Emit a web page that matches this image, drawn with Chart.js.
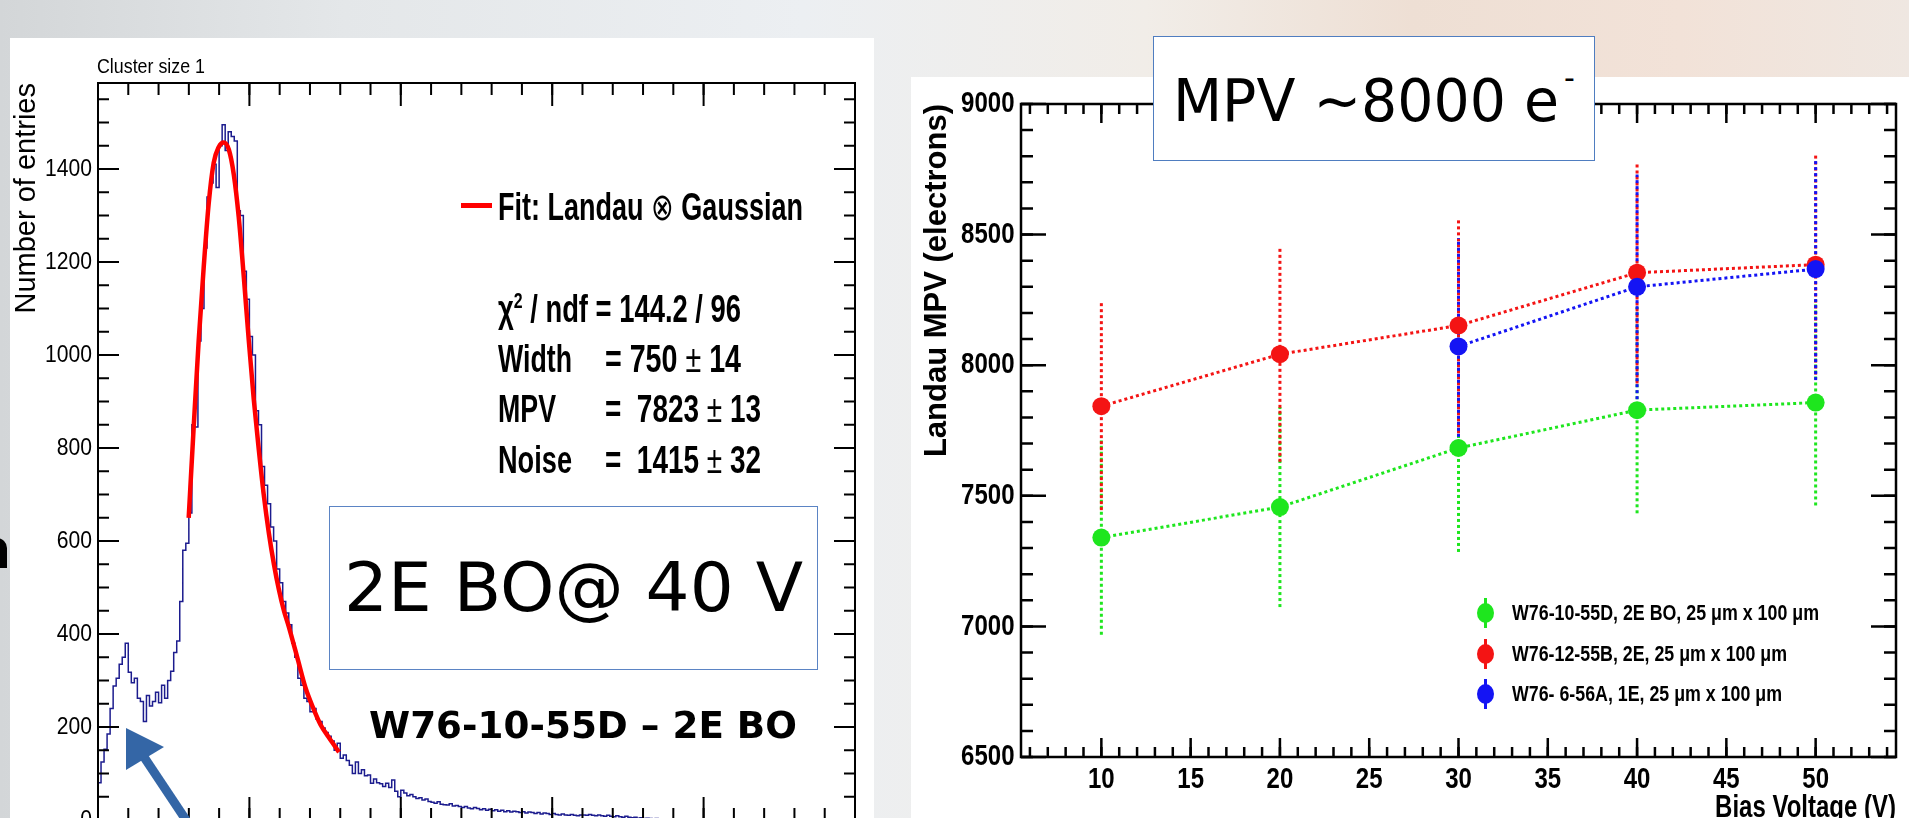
<!DOCTYPE html>
<html lang="en">
<head>
<meta charset="UTF-8" />
<title>Landau MPV - W76 sensors</title>
<script src="https://cdn.jsdelivr.net/npm/chart.js"></script>
<style>
  html, body { margin: 0; padding: 0; }
  body {
    width: 1909px; height: 818px; overflow: hidden; position: relative;
    font-family: "Liberation Sans", Arial, sans-serif;
    background: linear-gradient(90deg, #d3d6d8 0%, #e4e7e9 18%, #eceff2 42%, #f1ede8 60%, #eedfd4 74%, #f2e2d8 88%, #efe7e1 100%);
  }
  .panel { position: absolute; background: #fff; }
  .panel canvas { position: absolute; left: 0; top: 0; }
  .txt { position: absolute; white-space: pre; display: inline-block; transform-origin: 0 50%; color: #000; }
  .stat { font-weight: bold; font-size: 38px; line-height: 38px; }
  .stat sup { font-size: 22px; line-height: 0; vertical-align: 14px; }
  .thin { font-weight: normal; }
  .box { position: absolute; background: #fff; border: 1.5px solid #5b84c4; box-sizing: border-box; }
  .dv { font-family: "DejaVu Sans", sans-serif; }
  .mk { position: absolute; width: 17px; height: 20px; border-radius: 50%; }
  .mk::before { content: ""; position: absolute; left: 7px; top: -5px; width: 3px; height: 30px; background: inherit; }
  .lgtxt { font-weight: bold; font-size: 22px; line-height: 22px; }
</style>
</head>
<body>
  <div class="panel" style="left:10px; top:38px; width:864px; height:807px;">
    <canvas id="histChart" width="864" height="807"></canvas>
  </div>
  <div class="panel" style="left:911px; top:77px; width:998px; height:753px;">
    <canvas id="mpvChart" width="998" height="753"></canvas>
  </div>

  <!-- left plot annotations -->
  <div class="txt" style="left:97px; top:55px; font-size:21px; line-height:21px;" data-w="108">Cluster size 1</div>
  <div style="position:absolute; left:461px; top:203px; width:31px; height:5px; background:#ff0000;"></div>
  <div class="txt stat" style="left:498px; top:188px;" data-w="305">Fit: Landau <span class="thin">⊗</span> Gaussian</div>
  <div class="txt stat" style="left:498px; top:290px;" data-w="243">χ<sup>2</sup> / ndf = 144.2 / 96</div>
  <div class="txt stat" style="left:498px; top:340px;" data-w="74">Width</div>
  <div class="txt stat" style="left:605px; top:340px;" data-w="136">= 750 <span class="thin">±</span> 14</div>
  <div class="txt stat" style="left:498px; top:390px;" data-w="58">MPV</div>
  <div class="txt stat" style="left:605px; top:390px;" data-w="156">=  7823 <span class="thin">±</span> 13</div>
  <div class="txt stat" style="left:498px; top:441px;" data-w="74">Noise</div>
  <div class="txt stat" style="left:605px; top:441px;" data-w="156">=  1415 <span class="thin">±</span> 32</div>

  <div class="box" style="left:329px; top:506px; width:489px; height:164px;"></div>
  <div class="txt dv" style="left:344px; top:554px; font-size:68px; line-height:68px;" data-w="459">2E BO@ 40 V</div>
  <div class="txt dv" style="left:369px; top:707px; font-size:37px; line-height:37px; font-weight:bold;" data-w="428">W76-10-55D – 2E BO</div>

  <svg style="position:absolute; left:0; top:0;" width="260" height="818">
    <line x1="144" y1="757" x2="196" y2="835" stroke="#3466a6" stroke-width="9" />
    <polygon points="126,728 164,747 126,770" fill="#3466a6" />
  </svg>
  <div style="position:absolute; left:-6px; top:538px; width:13px; height:30px; background:#000; border-top-right-radius:10px;"></div>

  <!-- right plot annotations -->
  <div class="box" style="left:1153px; top:36px; width:442px; height:125px; border-color:#4f7dc0;"></div>
  <div class="txt dv" style="left:1173px; top:72px; font-size:58px; line-height:58px;" data-w="386">MPV ~8000 e</div>
  <div class="txt dv" style="left:1564px; top:63px; font-size:30px; line-height:30px;">-</div>

  <div id="mpvLegend"></div>

<script>
  // ---- left plot: cluster-size-1 charge spectrum ----
  const binWidth = 200; // electrons per bin
  const entries = [
    80, 125, 152, 185, 240, 288, 305, 335, 350, 380,
    318, 295, 305, 262, 255, 212, 268, 245, 255, 275,
    252, 290, 262, 300, 320, 360, 385, 470, 580, 595,
    660, 850, 845, 1030, 1100, 1230, 1340, 1370, 1410, 1360,
    1450, 1495, 1440, 1480, 1470, 1460, 1310, 1300, 1180, 1120,
    1040, 1000, 880, 850, 760, 720, 680, 630, 600, 540,
    510, 470, 445, 420, 380, 350, 305, 290, 262, 255,
    233, 240, 217, 212, 198, 188, 180, 170, 150, 165,
    133, 140, 128, 118, 100, 125, 100, 108, 95, 97,
    79, 88, 80, 78, 72, 79, 70, 86, 62, 50,
    64, 58, 52, 55, 50, 46, 48, 43, 45, 40,
    38, 36, 39, 34, 33, 32, 35, 30, 31, 29,
    27, 29, 26, 24, 27, 25, 22, 24, 21, 23,
    20, 22, 19, 21, 18, 20, 17, 19, 18, 16,
    18, 15, 17, 16, 14, 16, 13, 15, 14, 12,
    14, 12, 11, 13, 11, 10, 12, 10, 9, 11,
    11, 10, 12, 10, 9, 11, 9, 8, 10, 8,
    7, 9, 7, 6, 8, 6, 5, 6, 4, 5,
    3, 4, 3, 2, 3, 2, 1, 2, 1, 1,
    0, 1, 0, 0, 1, 0, 0, 0, 0, 0
  ];
  const fitCharge = [5990, 6320, 6650, 6980, 7310, 7640, 7970, 8300, 8640, 8970, 9300, 9630, 9960,
    10290, 10620, 10950, 11290, 11620, 11950, 12280, 12610, 13200, 13700, 14250, 14700, 15240, 15920];
  const fitEntries = [650, 845, 1031, 1188, 1325, 1413, 1447, 1457, 1442, 1388, 1295, 1168, 1031,
    904, 797, 699, 616, 550, 495, 450, 415, 345, 285, 238, 205, 178, 146];
  const entryTicks = [0, 200, 400, 600, 800, 1000, 1200, 1400];

  // ---- right plot: Landau MPV vs bias voltage ----
  const voltages = [10, 20, 30, 40, 50];
  const mpv10_55D = [7340, 7457, 7683, 7828, 7857];
  const err10_55D = [372, 383, 398, 395, 394];
  const mpv12_55B = [7843, 8042, 8152, 8354, 8385];
  const err12_55B = [398, 412, 413, 424, 421];
  const voltages6_56A = [30, 40, 50];
  const mpv6_56A = [8072, 8300, 8368];
  const err6_56A = [415, 430, 425];
  const seriesNames = [
    "W76-10-55D, 2E BO, 25 μm x 100 μm",
    "W76-12-55B, 2E, 25 μm x 100 μm",
    "W76- 6-56A, 1E, 25 μm x 100 μm"
  ];
  const seriesColors = ["#1ee61e", "#f41414", "#1414f4"];
  const voltageTicks = [10, 15, 20, 25, 30, 35, 40, 45, 50];
  const mpvTicks = [6500, 7000, 7500, 8000, 8500, 9000];

  const sans = '"Liberation Sans", Arial, sans-serif';

  // ROOT-like frame with inward ticks on all four sides
  const frameTicks = {
    id: "frameTicks",
    afterDatasetsDraw(chart, args, o) {
      const { ctx, chartArea: a, scales: { x, y } } = chart;
      ctx.save();
      ctx.strokeStyle = "#000";
      ctx.lineWidth = o.lineWidth;
      const ticksX = (step, len) => {
        for (let i = Math.ceil(x.min / step - 1e-9); i * step <= x.max + 1e-9; i++) {
          const px = x.getPixelForValue(i * step);
          ctx.beginPath();
          ctx.moveTo(px, a.bottom); ctx.lineTo(px, a.bottom - len);
          ctx.moveTo(px, a.top); ctx.lineTo(px, a.top + len);
          ctx.stroke();
        }
      };
      const ticksY = (step, len) => {
        for (let i = Math.ceil(y.min / step - 1e-9); i * step <= y.max + 1e-9; i++) {
          const py = y.getPixelForValue(i * step);
          ctx.beginPath();
          ctx.moveTo(a.left, py); ctx.lineTo(a.left + len, py);
          ctx.moveTo(a.right, py); ctx.lineTo(a.right - len, py);
          ctx.stroke();
        }
      };
      ticksX(o.xMinor, o.xMinorLen); ticksX(o.xMajor, o.xMajorLen);
      ticksY(o.yMinor, o.yMinorLen); ticksY(o.yMajor, o.yMajorLen);
      ctx.strokeRect(a.left, a.top, a.right - a.left, a.bottom - a.top);
      ctx.restore();
    }
  };

  // tick labels and x title in a condensed look (the slide squeezed the plots sideways)
  const squeezedLabels = {
    id: "squeezedLabels",
    afterDraw(chart, args, o) {
      const { ctx, chartArea: a, scales: { x, y } } = chart;
      const put = (text, px, py, align, font, sx) => {
        ctx.save();
        ctx.translate(px, py);
        ctx.scale(sx, 1);
        ctx.font = font;
        ctx.textAlign = align;
        ctx.fillText(text, 0, 0);
        ctx.restore();
      };
      ctx.save();
      ctx.fillStyle = "#000";
      ctx.textBaseline = "middle";
      if (o.y) y.ticks.forEach((t) => put(String(t.value), a.left - o.y.gap, y.getPixelForValue(t.value), "right", o.y.font, o.y.squeeze));
      if (o.x) x.ticks.forEach((t) => put(String(t.value), x.getPixelForValue(t.value), a.bottom + o.x.gap, "center", o.x.font, o.x.squeeze));
      if (o.xTitle) put(o.xTitle.text, a.right, a.bottom + o.xTitle.gap, "right", o.xTitle.font, o.xTitle.squeeze);
      ctx.restore();
    }
  };

  // dotted vertical error bars, drawn under the markers
  const errorBars = {
    id: "errorBars",
    beforeDatasetsDraw(chart) {
      const { ctx, scales: { x, y } } = chart;
      chart.data.datasets.forEach((ds) => {
        if (!ds.errors) return;
        ctx.save();
        ctx.strokeStyle = ds.borderColor;
        ctx.lineWidth = 3;
        ctx.setLineDash([3, 3]);
        ds.data.forEach((p, i) => {
          const px = x.getPixelForValue(p.x);
          ctx.beginPath();
          ctx.moveTo(px, y.getPixelForValue(p.y - ds.errors[i]));
          ctx.lineTo(px, y.getPixelForValue(p.y + ds.errors[i]));
          ctx.stroke();
        });
        ctx.restore();
      });
    }
  };

  const histPoints = entries.map((c, i) => ({ x: i * binWidth, y: c }));
  histPoints.push({ x: entries.length * binWidth, y: entries[entries.length - 1] });

  new Chart(document.getElementById("histChart"), {
    type: "line",
    data: {
      datasets: [
        {
          data: fitCharge.map((q, i) => ({ x: q, y: fitEntries[i] })),
          borderColor: "#ff0000",
          borderWidth: 4.5,
          pointRadius: 0,
          cubicInterpolationMode: "monotone",
        },
        {
          data: histPoints,
          borderColor: "#1c1c8e",
          borderWidth: 1.5,
          pointRadius: 0,
          stepped: true,
        },
      ],
    },
    options: {
      responsive: false,
      animation: false,
      layout: { padding: { top: 45, right: 19, left: 0, bottom: 0 } },
      plugins: {
        legend: { display: false },
        tooltip: { enabled: false },
        frameTicks: {
          lineWidth: 2,
          xMinor: 2000, xMajor: 10000, xMinorLen: 12, xMajorLen: 23,
          yMinor: 50, yMajor: 200, yMinorLen: 11, yMajorLen: 21,
        },
        squeezedLabels: {
          y: { font: "24px " + sans, gap: 6, squeeze: 0.88 },
        },
      },
      scales: {
        x: {
          type: "linear", min: 0, max: 50000,
          grid: { display: false, drawTicks: false },
          border: { display: false },
          ticks: { display: false },
          afterFit: (s) => { s.height = 25; },
        },
        y: {
          min: 0, max: 1585,
          afterBuildTicks: (s) => { s.ticks = entryTicks.map((v) => ({ value: v })); },
          grid: { display: false, drawTicks: false },
          border: { display: false },
          ticks: { display: false },
          title: {
            display: true, text: "Number of entries", align: "end", color: "#000",
            font: { family: sans, size: 29 }, padding: { top: 0, bottom: 0 },
          },
          afterFit: (s) => { s.width = 88; },
        },
      },
    },
    plugins: [frameTicks, squeezedLabels],
  });

  new Chart(document.getElementById("mpvChart"), {
    type: "line",
    data: {
      datasets: [
        { x: voltages, y: mpv10_55D, e: err10_55D },
        { x: voltages, y: mpv12_55B, e: err12_55B },
        { x: voltages6_56A, y: mpv6_56A, e: err6_56A },
      ].map((s, k) => ({
        label: seriesNames[k],
        data: s.x.map((v, i) => ({ x: v, y: s.y[i] })),
        errors: s.e,
        order: 3 - k,
        borderColor: seriesColors[k],
        backgroundColor: seriesColors[k],
        borderWidth: 3,
        borderDash: [3, 3],
        pointRadius: 9,
        pointBorderWidth: 0,
        pointStyle: "circle",
      })),
    },
    options: {
      responsive: false,
      animation: false,
      layout: { padding: { top: 27, right: 13, left: 0, bottom: 0 } },
      plugins: {
        legend: { display: false },
        tooltip: { enabled: false },
        frameTicks: {
          lineWidth: 2.5,
          xMinor: 1, xMajor: 5, xMinorLen: 10, xMajorLen: 19,
          yMinor: 100, yMajor: 500, yMinorLen: 12, yMajorLen: 25,
        },
        squeezedLabels: {
          y: { font: "bold 30px " + sans, gap: 6.5, squeeze: 0.8 },
          x: { font: "bold 30px " + sans, gap: 23, squeeze: 0.8 },
          xTitle: { text: "Bias Voltage (V)", font: "bold 32px " + sans, gap: 51, squeeze: 0.75 },
        },
      },
      scales: {
        x: {
          type: "linear", min: 5.5, max: 54.5,
          afterBuildTicks: (s) => { s.ticks = voltageTicks.map((v) => ({ value: v })); },
          grid: { display: false, drawTicks: false },
          border: { display: false },
          ticks: { display: false },
          afterFit: (s) => { s.height = 73; },
        },
        y: {
          min: 6500, max: 9000,
          afterBuildTicks: (s) => { s.ticks = mpvTicks.map((v) => ({ value: v })); },
          grid: { display: false, drawTicks: false },
          border: { display: false },
          ticks: { display: false },
          title: {
            display: true, text: "Landau MPV (electrons)", align: "end", color: "#000",
            font: { family: sans, size: 31, weight: "bold" }, padding: { top: 8, bottom: 0 },
          },
          afterFit: (s) => { s.width = 110; },
        },
      },
    },
    plugins: [errorBars, frameTicks, squeezedLabels],
  });

  // legend for the right plot
  const legendBox = document.getElementById("mpvLegend");
  const legendWidths = [307, 275, 270];
  seriesNames.forEach((name, i) => {
    const cy = 613 + i * 40.5;
    const mk = document.createElement("div");
    mk.className = "mk";
    mk.style.left = "1477px";
    mk.style.top = (cy - 10) + "px";
    mk.style.background = seriesColors[i];
    legendBox.appendChild(mk);
    const t = document.createElement("div");
    t.className = "txt lgtxt";
    t.style.left = "1512px";
    t.style.top = (cy - 11) + "px";
    t.dataset.w = legendWidths[i];
    t.textContent = name;
    legendBox.appendChild(t);
  });

  // squeeze text to the widths measured on the slide
  document.querySelectorAll("[data-w]").forEach((el) => {
    const w = el.getBoundingClientRect().width;
    el.style.transform = `scaleX(${el.dataset.w / w})`;
  });
</script>
</body>
</html>
